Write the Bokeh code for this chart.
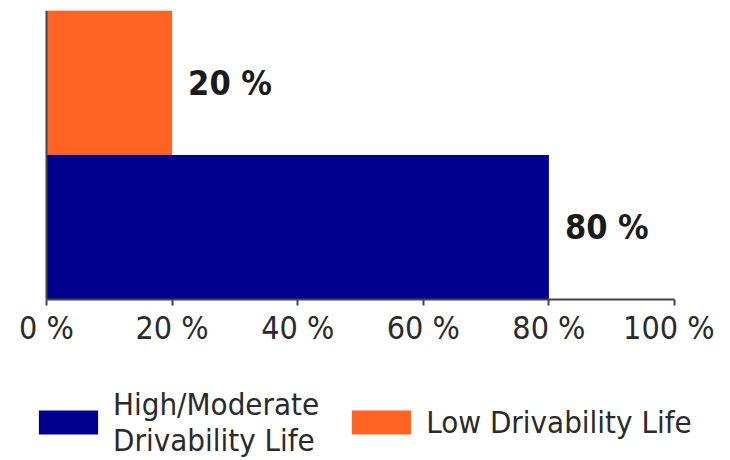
from bokeh.plotting import figure
from bokeh.models import Range1d, FixedTicker, Legend, LegendItem, ColumnDataSource, Span
from bokeh.layouts import column
from bokeh.core.properties import value
from bokeh.embed import file_html
from bokeh.resources import INLINE

categories = ["High/Moderate\nDrivability Life", "Low Drivability Life"]
values = [80, 20]
bar_labels = ["80 %", "20 %"]
colors = ["#000090", "#FF6324"]
tick_values = [0, 20, 40, 60, 80, 100]
tick_labels = ["0 %", "20 %", "40 %", "60 %", "80 %", "100 %"]

FONT = "DejaVu Sans Condensed"
W = 714
PLOT_LEFT, PLOT_RIGHT = 46, 674  # pixel extent of the 0..100 % scale
ppu = (PLOT_RIGHT - PLOT_LEFT) / 100.0

p = figure(width=W, height=360, output_backend="svg", toolbar_location=None,
           x_range=Range1d(-PLOT_LEFT / ppu, 100 + (W - PLOT_RIGHT) / ppu), y_range=Range1d(0, 2),
           y_axis_location=None,
           min_border_left=0, min_border_right=0, min_border_top=10, min_border_bottom=61)
p.outline_line_color = None
p.xgrid.visible = False
p.ygrid.visible = False

ys = [i + 0.5 for i in range(len(categories))]
src = ColumnDataSource(dict(y=ys, v=values, c=colors, lab=bar_labels))

p.hbar(y="y", right="v", left=0, height=1.0, color="c", line_color=None, source=src)

p.text(x="v", y="y", text="lab", source=src, x_offset=16, text_baseline="middle",
       text_align="left", text_font=value(FONT), text_font_style="bold",
       text_font_size="34px", text_color="#1a1a1a")

p.add_layout(Span(location=0, dimension="height", line_color="#444444", line_width=2))

p.xaxis.bounds = (tick_values[0], tick_values[-1])
p.xaxis.ticker = FixedTicker(ticks=tick_values)
p.xaxis.major_label_overrides = {t: l for t, l in zip(tick_values, tick_labels)}
p.xaxis.major_label_text_font = FONT
p.xaxis.major_label_text_font_size = "32px"
p.xaxis.major_label_text_color = "#2a2a2a"
p.xaxis.axis_line_color = "#444444"
p.xaxis.axis_line_width = 2
p.xaxis.major_tick_line_color = "#444444"
p.xaxis.major_tick_line_width = 2
p.xaxis.major_tick_out = 6
p.xaxis.major_tick_in = 0
p.xaxis.minor_tick_line_color = None
p.xaxis.major_label_standoff = 3

# legend panel below the chart
p2 = figure(width=W, height=100, output_backend="svg", toolbar_location=None,
            x_range=Range1d(0, 1), y_range=Range1d(0, 1),
            x_axis_location=None, y_axis_location=None,
            min_border_left=0, min_border_right=0, min_border_top=0, min_border_bottom=0)
p2.outline_line_color = None
p2.xgrid.visible = False
p2.ygrid.visible = False

leg_renderers = []
for i in range(len(categories)):
    r = p2.hbar(y=[ys[i]], right=[values[i]], left=0, height=1.0, color=colors[i], line_color=None)
    r.visible = False
    leg_renderers.append(r)

legend = Legend(items=[LegendItem(label=categories[i], renderers=[leg_renderers[i]]) for i in range(len(categories))],
                orientation="horizontal", location=(31, 2))
legend.label_text_font = FONT
legend.label_text_font_size = "31px"
legend.label_text_color = "#2a2a2a"
legend.label_text_line_height = 0.9
legend.glyph_width = 74
legend.glyph_height = 30
legend.label_standoff = 8
legend.spacing = 25
legend.padding = 0
legend.margin = 0
legend.border_line_color = None
legend.background_fill_alpha = 0
legend.inactive_fill_alpha = 0
p2.add_layout(legend)

layout = column(p, p2, spacing=0)
open("out.html", "w").write(file_html(layout, INLINE))
